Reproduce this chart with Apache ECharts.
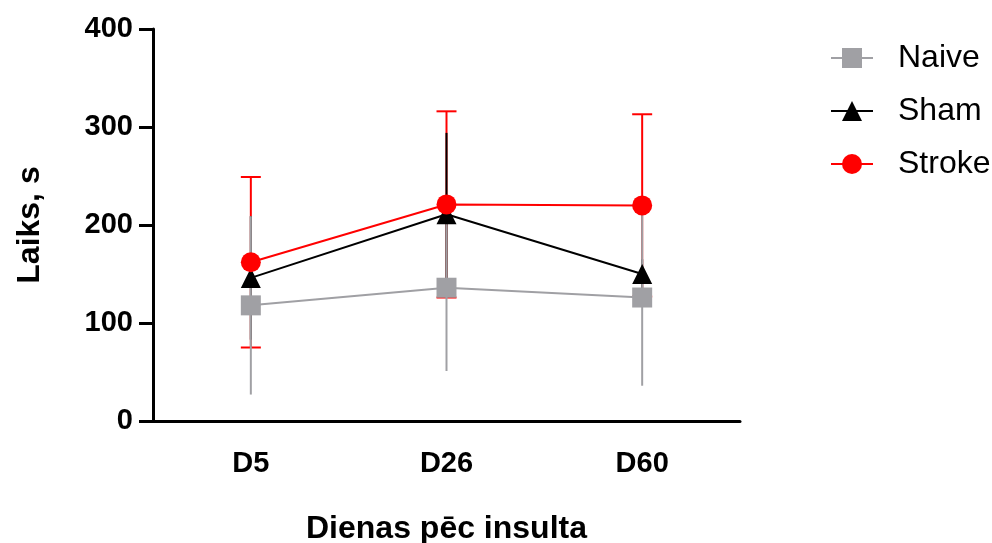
<!DOCTYPE html>
<html>
<head>
<meta charset="utf-8">
<script src="https://cdn.jsdelivr.net/npm/echarts@6/dist/echarts.min.js"></script>
<style>
  html, body { margin: 0; padding: 0; background: #fff; }
  #chart { width: 992px; height: 543px; }
</style>
</head>
<body>
<div id="chart"></div>
<script>
// chart data
var days = ['D5', 'D26', 'D60'];
var naiveMean = [118, 136, 126];
var naiveSd = [91, 85, 90];
var shamMean = [146, 211, 150];
var shamSd = [63, 83, 15];
var strokeMean = [162, 221, 220];
var strokeSd = [87, 95, 93];

var naiveColor = '#a0a0a4';
var shamColor = '#000000';
var strokeColor = '#ff0000';
var font = 'Liberation Sans, Arial, sans-serif';

function errData(mean, sd) {
    return mean.map(function (m, i) { return [i, m - sd[i], m + sd[i]]; });
}

function errSeries(mean, sd, color, capW, z) {
    return {
        type: 'custom',
        z: z,
        silent: true,
        data: errData(mean, sd),
        renderItem: function (params, api) {
            var lo = api.coord([api.value(0), api.value(1)]);
            var hi = api.coord([api.value(0), api.value(2)]);
            var style = { stroke: color, lineWidth: 2 };
            var kids = [{
                type: 'line',
                shape: { x1: lo[0], y1: lo[1], x2: hi[0], y2: hi[1] },
                style: style
            }];
            if (capW > 0) {
                kids.push({ type: 'line', shape: { x1: hi[0] - capW / 2, y1: hi[1], x2: hi[0] + capW / 2, y2: hi[1] }, style: style });
                kids.push({ type: 'line', shape: { x1: lo[0] - capW / 2, y1: lo[1], x2: lo[0] + capW / 2, y2: lo[1] }, style: style });
            }
            return { type: 'group', children: kids };
        }
    };
}

function lineSeries(name, mean, color, symbol, z) {
    return {
        name: name,
        type: 'line',
        z: z,
        data: mean,
        symbol: symbol,
        symbolSize: 20,
        lineStyle: { color: color, width: 2 },
        itemStyle: { color: color },
        emphasis: { disabled: true }
    };
}

var chart = echarts.init(document.getElementById('chart'));
chart.setOption({
    animation: false,
    grid: { left: 153, right: 252, top: 29, bottom: 122, outerBoundsMode: 'none' },
    legend: {
        data: ['Naive', 'Sham', 'Stroke'],
        orient: 'vertical',
        left: 825,
        top: 37,
        itemWidth: 42,
        itemHeight: 25,
        itemGap: 21,
        textStyle: { fontFamily: font, fontSize: 32, color: '#000', padding: [0, 0, 0, 20] }
    },
    xAxis: {
        type: 'category',
        data: days,
        boundaryGap: true,
        name: 'Dienas pēc insulta',
        nameLocation: 'middle',
        nameGap: 92,
        nameTextStyle: { fontFamily: font, fontSize: 32, fontWeight: 'bold', color: '#000' },
        axisLine: { lineStyle: { color: '#000', width: 3 } },
        axisTick: { alignWithLabel: true, length: 14, lineStyle: { color: '#000', width: 3 } },
        axisLabel: { fontFamily: font, fontSize: 29, fontWeight: 'bold', color: '#000', margin: 28 }
    },
    yAxis: {
        type: 'value',
        min: 0,
        max: 400,
        interval: 100,
        name: 'Laiks, s',
        nameLocation: 'middle',
        nameGap: 107,
        nameTextStyle: { fontFamily: font, fontSize: 32, fontWeight: 'bold', color: '#000' },
        splitLine: { show: false },
        axisLine: { show: true, lineStyle: { color: '#000', width: 3 } },
        axisTick: { show: true, length: 14, lineStyle: { color: '#000', width: 3 } },
        axisLabel: { fontFamily: font, fontSize: 29, fontWeight: 'bold', color: '#000', margin: 20 }
    },
    series: [
        errSeries(strokeMean, strokeSd, strokeColor, 20, 1),
        errSeries(shamMean, shamSd, shamColor, 0, 2),
        errSeries(naiveMean, naiveSd, naiveColor, 0, 3),
        lineSeries('Naive', naiveMean, naiveColor, 'rect', 4),
        lineSeries('Sham', shamMean, shamColor, 'triangle', 5),
        lineSeries('Stroke', strokeMean, strokeColor, 'circle', 6)
    ]
});
</script>
</body>
</html>
